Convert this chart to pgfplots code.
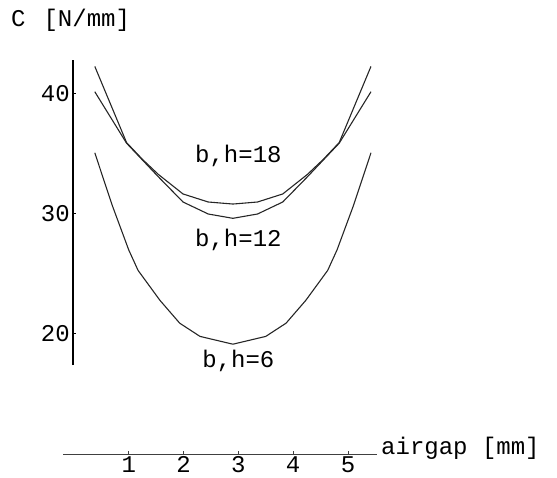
\documentclass[border=0pt]{standalone}
\usepackage{fontspec}
\setmainfont{Liberation Mono}
\usepackage{pgfplots}
\pgfplotsset{compat=1.18}

% stiffness C against airgap, three magnet sizes
\pgfplotstableread{
x     y
0.38  42.30
0.96  35.95
1.25  34.55
1.54  33.30
1.99  31.67
2.45  31.00
2.90  30.83
3.35  31.00
3.81  31.67
4.26  33.30
4.55  34.55
4.84  35.95
5.42  42.30
}\bhEighteen
\pgfplotstableread{
x     y
0.38  40.19
0.96  35.90
1.25  34.50
1.54  33.10
1.99  31.00
2.45  30.00
2.90  29.64
3.35  30.00
3.81  31.00
4.26  33.10
4.55  34.50
4.84  35.90
5.42  40.19
}\bhTwelve
\pgfplotstableread{
x     y
0.38  35.10
0.70  30.70
1.00  27.00
1.17  25.30
1.57  22.80
1.93  20.90
2.30  19.80
2.90  19.15
3.50  19.80
3.87  20.90
4.23  22.80
4.63  25.30
4.80  27.00
5.10  30.70
5.42  35.10
}\bhSix

\begin{document}
\fontsize{24}{29}\selectfont
\begin{tikzpicture}[every node/.append style={font=\fontsize{24}{29}\selectfont}]
\path[use as bounding box] (0pt,0pt) rectangle (557pt,477pt);

% horizontal axis and the curves
\begin{axis}[
  at={(63pt,23pt)}, anchor=south west,
  x=54.8pt, y=12pt,
  xmin=-0.2, xmax=5.53, ymin=10, ymax=43,
  axis x line=bottom, axis y line=none,
  axis line style={-, line width=0.8pt, black!75},
  xtick={1,2,3,4,5},
  tick align=inside, major tick length=3pt,
  tick style={black!75, line width=0.8pt},
  xticklabel style={anchor=north, inner sep=0pt, yshift=-2pt},
  /pgf/number format/assume math mode=true,
  xlabel={airgap [mm]},
  xlabel style={at={(axis description cs:1,0)}, anchor=base west, inner sep=0pt, xshift=4pt},
  clip=false,
  no markers,
  every axis plot post/.append style={black!85, line width=1.1pt, line join=round},
]
\addplot table[x=x, y=y] {\bhEighteen};
\addplot table[x=x, y=y] {\bhTwelve};
\addplot table[x=x, y=y] {\bhSix};
\node[anchor=base] at (axis cs:3.0,34.33) {b,h=18};
\node[anchor=base] at (axis cs:3.0,27.25) {b,h=12};
\node[anchor=base] at (axis cs:3.0,17.2) {b,h=6};
\end{axis}

% vertical axis
\begin{axis}[
  at={(73pt,112pt)}, anchor=south west,
  x=54.8pt, y=12pt,
  xmin=-0.02, xmax=1, ymin=17.4, ymax=42.83,
  axis y line=left, axis x line=none,
  axis line style={-, line width=1.3pt, black},
  ytick={20,30,40},
  tick align=inside, major tick length=3pt,
  tick style={black, line width=0.8pt},
  yticklabel style={anchor=east, inner sep=0pt, xshift=-3pt},
  /pgf/number format/assume math mode=true,
  ylabel={C\hspace{18pt}[N/mm]},
  ylabel style={at={(axis description cs:0,1)}, rotate=-90, anchor=base west, inner sep=0pt, xshift=-62pt, yshift=33pt},
]
\end{axis}
\end{tikzpicture}
\end{document}
